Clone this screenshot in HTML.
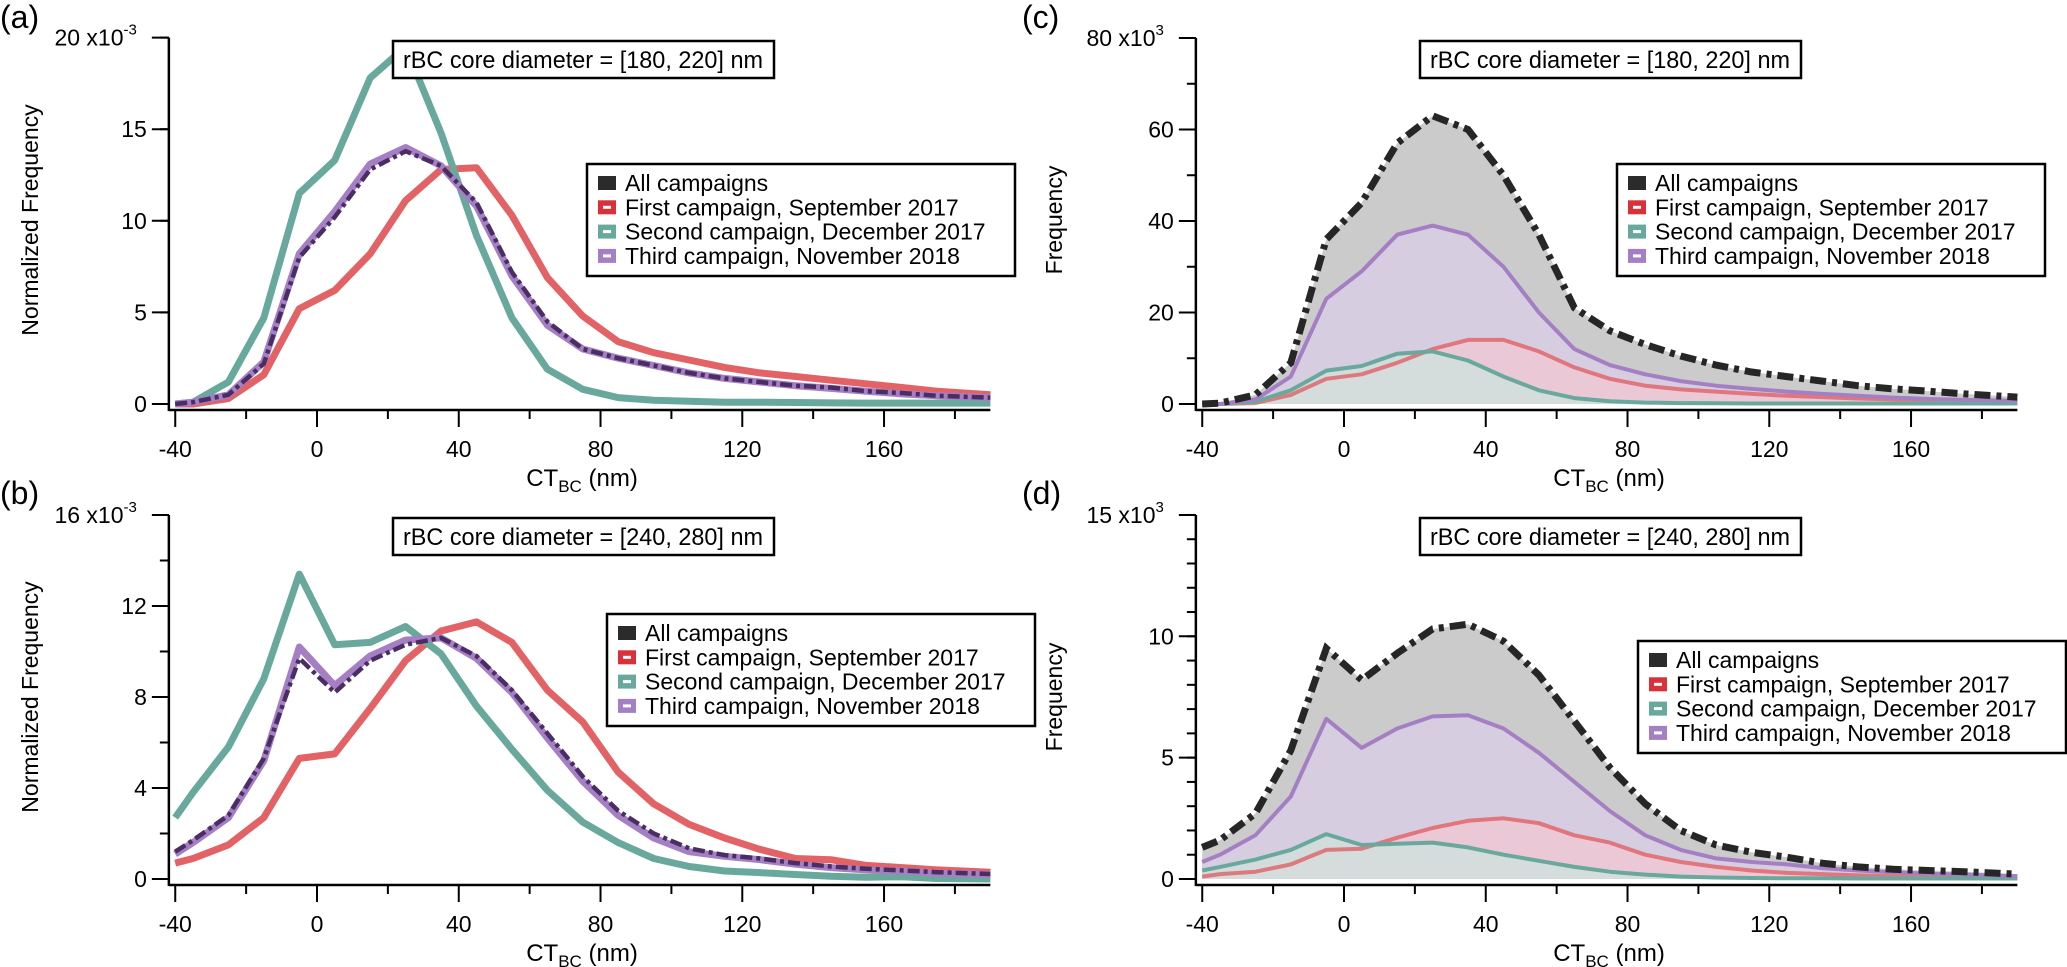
<!DOCTYPE html>
<html><head><meta charset="utf-8"><style>
html,body{margin:0;padding:0;background:#fff}
svg{display:block}
text{font-family:"Liberation Sans",Arial,sans-serif;fill:#000}
</style></head><body>
<svg id="chart" width="2067" height="967" viewBox="0 0 2067 967" xmlns="http://www.w3.org/2000/svg"></svg>
<script>
// ---- shared data ----
const xBins = [-40,-35,-25,-15,-5,5,15,25,35,45,55,65,75,85,95,105,115,125,135,145,155,165,175,190];
const xTicks = [-40,0,40,80,120,160];
const legendLabels = ["All campaigns","First campaign, September 2017","Second campaign, December 2017","Third campaign, November 2018"];

// Panel (a) normalized, x10^-3, [180,220] nm
const aAll    = [0,0.1,0.5,2.2,8.0,10.2,12.8,13.8,13.0,11.0,7.2,4.5,3.0,2.5,2.1,1.7,1.4,1.2,1.0,0.9,0.7,0.6,0.45,0.35];
const aFirst  = [0,0,0.3,1.6,5.2,6.2,8.2,11.1,12.8,12.9,10.3,6.9,4.8,3.4,2.8,2.4,2.0,1.7,1.5,1.3,1.1,0.9,0.7,0.5];
const aSecond = [0,0.1,1.2,4.7,11.5,13.3,17.8,19.5,14.8,9.2,4.7,1.9,0.8,0.35,0.2,0.15,0.1,0.1,0.08,0.06,0.05,0.05,0.05,0.05];
const aThird  = [0,0.1,0.5,2.3,8.2,10.5,13.1,14.0,13.0,10.8,7.0,4.3,3.0,2.5,2.1,1.7,1.4,1.2,1.0,0.85,0.7,0.55,0.45,0.35];
const aYTicks = [0,5,10,15,20];

// Panel (b) normalized, x10^-3, [240,280] nm
const bAll    = [1.2,1.7,2.8,5.3,9.7,8.2,9.6,10.3,10.6,9.8,8.3,6.4,4.5,3.0,2.0,1.35,1.05,0.9,0.7,0.55,0.45,0.38,0.3,0.22];
const bFirst  = [0.7,0.9,1.5,2.7,5.3,5.5,7.5,9.6,10.9,11.3,10.4,8.3,6.9,4.7,3.3,2.4,1.8,1.3,0.9,0.85,0.6,0.5,0.4,0.3];
const bSecond = [2.7,3.8,5.8,8.8,13.4,10.3,10.4,11.1,9.9,7.6,5.7,3.9,2.5,1.6,0.9,0.55,0.35,0.28,0.2,0.12,0.08,0.1,0.02,0.0];
const bThird  = [1.1,1.6,2.7,5.2,10.2,8.5,9.8,10.5,10.6,9.7,8.2,6.2,4.3,2.8,1.8,1.2,1.0,0.85,0.65,0.5,0.4,0.35,0.25,0.2];
const bYTicks = [0,4,8,12,16];

// Panel (c) frequency, x10^3, [180,220] nm
const cAll    = [0,0.2,2,9,36,44,57,63,60,50,37,21,16,13,10.5,8.5,7,6,5,4,3.3,2.8,2.2,1.5];
const cFirst  = [0,0,0.2,2,5.5,6.5,9,12,14,14,11.5,8,5.5,4,3.2,2.7,2.2,1.8,1.5,1.2,1,0.8,0.6,0.5];
const cSecond = [0,0,0.5,3,7.3,8.3,11,11.5,9.5,6,3,1.3,0.6,0.3,0.2,0.15,0.1,0.1,0.1,0.1,0.1,0.1,0.1,0.1];
const cThird  = [0,0,1,6,23,29,37,39,37,30,20,12,8.5,6.5,5,4,3.3,2.7,2.2,1.8,1.4,1.1,0.9,0.7];
const cYTicks = [0,20,40,60,80];

// Panel (d) frequency, x10^3, [240,280] nm
const dAll    = [1.3,1.6,2.7,5.3,9.5,8.2,9.3,10.3,10.5,9.8,8.4,6.5,4.6,3.1,2.0,1.4,1.1,0.9,0.65,0.5,0.4,0.35,0.3,0.2];
const dFirst  = [0.1,0.2,0.3,0.6,1.2,1.25,1.7,2.1,2.4,2.5,2.3,1.8,1.5,1.0,0.7,0.5,0.35,0.25,0.2,0.15,0.12,0.1,0.08,0.06];
const dSecond = [0.35,0.5,0.8,1.2,1.85,1.4,1.45,1.5,1.3,1.0,0.75,0.5,0.3,0.18,0.1,0.06,0.04,0.03,0.03,0.02,0.02,0.02,0.02,0.02];
const dThird  = [0.7,1.0,1.8,3.4,6.6,5.4,6.2,6.7,6.75,6.2,5.2,4.0,2.8,1.8,1.2,0.85,0.7,0.6,0.45,0.35,0.28,0.22,0.18,0.12];
const dYTicks = [0,5,10,15];

const NS = "http://www.w3.org/2000/svg";
const svg = document.getElementById("chart");
function mk(tag, attrs, parent){
  const e = document.createElementNS(NS, tag);
  for (const k in attrs) e.setAttribute(k, attrs[k]);
  (parent||svg).appendChild(e);
  return e;
}
const COL = {all:"#2b2b2b", first:"#e05a5e", second:"#69a99d", third:"#a57fc4"};

function panel(p){
  const g = mk("g", {});
  
  
  const sx = v => p.x0 + v * 3.544;
  const sy = v => p.y0 - (v - 0) * p.ky;
  const pts = arr => arr.map((v,i)=> sx(xBins[i]).toFixed(1)+","+sy(v).toFixed(1)).join(" ");
  const area = arr => sx(xBins[0]).toFixed(1)+","+sy(0)+" "+pts(arr)+" "+sx(xBins[xBins.length-1]).toFixed(1)+","+sy(0);

  if (p.fill){
    const f1 = mk("polygon",{points:area(p.all),fill:"#cbcbcb"},g);
     
    const f2 = mk("polygon",{points:area(p.third),fill:"#d7cde0"},g);
     
    const f3 = mk("polygon",{points:area(p.first),fill:"#ebc8d6"},g);
     
    const f4 = mk("polygon",{points:area(p.second),fill:"#d2dedd",opacity:"0.9"},g);
     
  }
  const lw = p.fill ? 4 : 7;
  const l1 = mk("polyline",{points:pts(p.first),fill:"none",stroke:COL.first,"stroke-width":lw,"stroke-linejoin":"round",opacity:p.fill?0.75:0.95},g);
   
  const l2 = mk("polyline",{points:pts(p.second),fill:"none",stroke:COL.second,"stroke-width":lw,"stroke-linejoin":"round"},g);
   
  const l3 = mk("polyline",{points:pts(p.third),fill:"none",stroke:COL.third,"stroke-width":lw,"stroke-linejoin":"round"},g);
   
  const l4 = mk("polyline",{points:pts(p.all),fill:"none",stroke:p.fill?"#262626":"#4a2d63","stroke-width":p.fill?7:4.5,"stroke-dasharray":p.fill?"16 6 5 6":"12 4 4 4"},g);
   

  // axes
  const axX = p.x0 + (-41.8)*3.544;
  const yAx = mk("line",{x1:axX,y1:sy(p.yTicks[p.yTicks.length-1]),x2:axX,y2:p.y0+7,stroke:"#000","stroke-width":2.5},g);
   
  const xAx = mk("line",{x1:axX,y1:p.y0+6,x2:sx(190),y2:p.y0+6,stroke:"#000","stroke-width":2.5},g);
   
  // y minor ticks
  const top = p.yTicks[p.yTicks.length-1];
  for (let v=0; v<=top+1e-9; v+=p.minor){
    mk("line",{x1:axX-9,y1:sy(v),x2:axX,y2:sy(v),stroke:"#000","stroke-width":2},g);
  }
  p.yTicks.forEach((v,i)=>{
    mk("line",{x1:axX-17,y1:sy(v),x2:axX,y2:sy(v),stroke:"#000","stroke-width":2},g);
    const t = mk("text",{x:axX-22,y:sy(v)+8,"font-size":23,"text-anchor":"end"},g);
     
    if (i===p.yTicks.length-1){
      t.textContent = v+" x10";
      t.setAttribute("x", axX-32);
      const s = mk("tspan",{"font-size":15,dy:-11},t); s.textContent = p.exp;
    } else t.textContent = v;
  });
  // x ticks
  for (let v=-40; v<=180; v+=20){
    const major = v%40===0;
    mk("line",{x1:sx(v),y1:p.y0+6,x2:sx(v),y2:p.y0+6+(major?17:9),stroke:"#000","stroke-width":2},g);
  }
  xTicks.forEach(v=>{
    const t = mk("text",{x:sx(v),y:p.y0+53,"font-size":23,"text-anchor":"middle"},g);
     
    t.textContent = v;
  });
  const xl = mk("text",{x:p.x0+265,y:p.y0+82,"font-size":24,"text-anchor":"middle"},g);
   
  xl.appendChild(document.createTextNode("CT"));
  const sb = mk("tspan",{"font-size":17,dy:6},xl); sb.textContent="BC";
  const rest = mk("tspan",{dy:-6},xl); rest.textContent=" (nm)";
  const yl = mk("text",{x:0,y:0,"font-size":23,"text-anchor":"middle",transform:`translate(${p.ylx},${p.yly}) rotate(-90)`},g);
   
  yl.textContent = p.ylabel;
  const pl = mk("text",{x:p.plx,y:p.ply,"font-size":32},g);
   
  pl.textContent = p.label;
  // annotation
  const an = mk("g",{},g);
   
  mk("rect",{x:p.ax,y:p.ay,width:381,height:37,fill:"#fff",stroke:"#000","stroke-width":2.5},an);
  const at = mk("text",{x:p.ax+190,y:p.ay+27,"font-size":24,"text-anchor":"middle",textLength:360,lengthAdjust:"spacingAndGlyphs"},an);
  at.textContent = p.annot;
  // legend
  const lg = mk("g",{},g);
   
  mk("rect",{x:p.lx,y:p.ly,width:428,height:112,fill:"#fff",stroke:"#000","stroke-width":2.5},lg);
  const cols=[COL.all,"#d9303a",COL.second,COL.third];
  legendLabels.forEach((s,i)=>{
    const cy = p.ly+19+i*24.3;
    const e = mk("g",{},lg);
     
    mk("rect",{x:p.lx+11,y:cy-7,width:18,height:14,fill:cols[i]},e);
    if (i>0) mk("rect",{x:p.lx+16,y:cy-1.5,width:8,height:3,fill:"#fff"},e);
    const t = mk("text",{x:p.lx+38,y:cy+8,"font-size":23},e);
    t.textContent = s;
  });
}

panel({name:"panel-a",x0:317,y0:404,ky:18.32,yTicks:aYTicks,minor:5,exp:"-3",all:aAll,first:aFirst,second:aSecond,third:aThird,fill:false,
  ylabel:"Normalized Frequency",ylx:38,yly:220,label:"(a)",plx:0,ply:28,annot:"rBC core diameter = [180, 220] nm",ax:393,ay:41,lx:587,ly:164});
panel({name:"panel-b",x0:317,y0:879,ky:22.75,yTicks:bYTicks,minor:2,exp:"-3",all:bAll,first:bFirst,second:bSecond,third:bThird,fill:false,
  ylabel:"Normalized Frequency",ylx:38,yly:697,label:"(b)",plx:0,ply:504,annot:"rBC core diameter = [240, 280] nm",ax:393,ay:518,lx:607,ly:614});
panel({name:"panel-c",x0:1344,y0:404,ky:4.575,yTicks:cYTicks,minor:10,exp:"3",all:cAll,first:cFirst,second:cSecond,third:cThird,fill:true,
  ylabel:"Frequency",ylx:1062,yly:220,label:"(c)",plx:1022,ply:28,annot:"rBC core diameter = [180, 220] nm",ax:1420,ay:41,lx:1617,ly:164});
panel({name:"panel-d",x0:1344,y0:879,ky:24.27,yTicks:dYTicks,minor:1,exp:"3",all:dAll,first:dFirst,second:dSecond,third:dThird,fill:true,
  ylabel:"Frequency",ylx:1062,yly:697,label:"(d)",plx:1022,ply:504,annot:"rBC core diameter = [240, 280] nm",ax:1420,ay:518,lx:1638,ly:641});
</script>
</body></html>
